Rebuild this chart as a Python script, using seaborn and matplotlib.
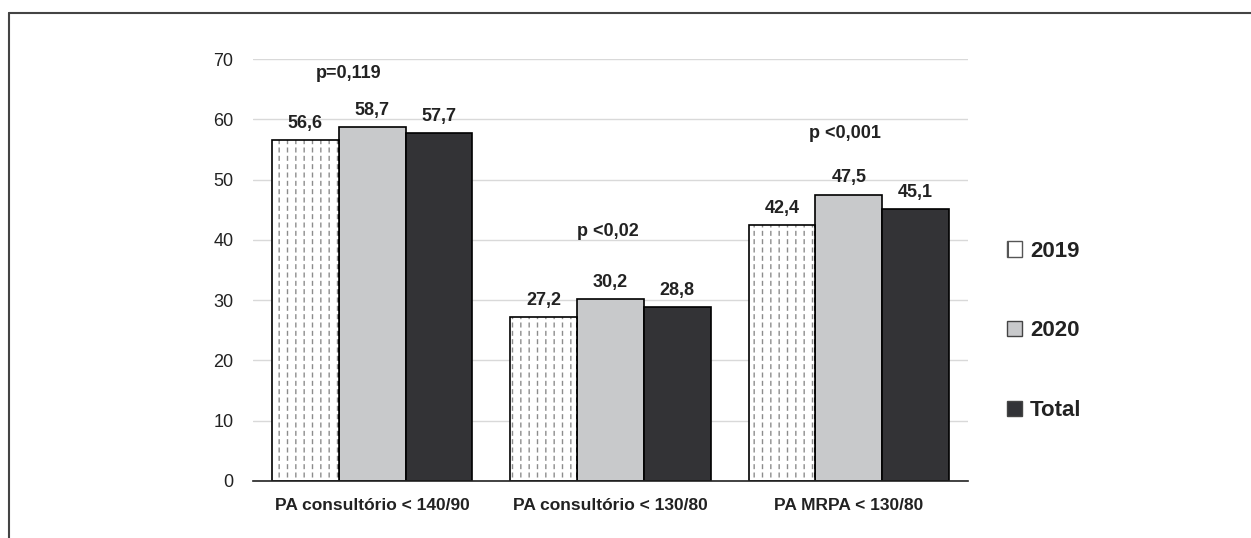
import numpy as np
import pandas as pd
import matplotlib as mpl
import matplotlib.pyplot as plt
from matplotlib.patches import Patch
from matplotlib.lines import Line2D
import seaborn as sns

sns.set_theme(style="whitegrid")
plt.rcParams['font.family'] = ['Liberation Sans', 'DejaVu Sans']
plt.rcParams['hatch.linewidth'] = 1.0

categories = ["PA consultório < 140/90", "PA consultório < 130/80", "PA MRPA < 130/80"]
series = ["2019", "2020", "Total"]
v2019 = [56.6, 27.2, 42.4]
v2020 = [58.7, 30.2, 47.5]
vtotal = [57.7, 28.8, 45.1]
pvalues = ["p=0,119", "p <0,02", "p <0,001"]
p_y = [67.7, 41.4, 57.7]
p_x = [-0.097, -0.01, -0.015]

colors = ["white", "#c8c9cb", "#323337"]

df = pd.DataFrame({
    "cat": categories * 3,
    "serie": [s for s in series for _ in categories],
    "val": v2019 + v2020 + vtotal,
})

fig = plt.figure(figsize=(12.51, 5.38), dpi=100)
ax = fig.add_axes([0.2022, 0.106, 0.5716, 0.784])

sns.barplot(data=df, x="cat", y="val", hue="serie", palette=colors,
            width=0.84, edgecolor="black", linewidth=1.2, ax=ax, legend=False)

# 2019: grey dashed vertical lines
for bar in ax.containers[0]:
    x0, y0 = bar.get_x(), bar.get_y()
    w, h = bar.get_width(), bar.get_height()
    bar.set_edgecolor("#8c8c8c")
    bar.set_hatch("||")
    bar.set_linewidth(0)
    with mpl.rc_context({"hatch.linewidth": 2.4}):
        ax.bar(x0, h, width=w, bottom=y0, align="edge", facecolor="none",
               edgecolor="white", linewidth=0, hatch="--", zorder=bar.get_zorder() + 0.1)
    ax.bar(x0, h, width=w, bottom=y0, align="edge", facecolor="none",
           edgecolor="black", linewidth=1.2, zorder=bar.get_zorder() + 0.2)

for cont in ax.containers[:3]:
    ax.bar_label(cont, labels=[f"{b.get_height():.1f}".replace(".", ",") for b in cont],
                 padding=6, fontsize=13, fontweight="bold", color="#222222")

for i, (t, y) in enumerate(zip(pvalues, p_y)):
    ax.text(i + p_x[i], y, t, ha="center", va="center", fontsize=13,
            fontweight="bold", color="#222222")

ax.set_ylim(0, 70)
ax.set_yticks(range(0, 71, 10))
ax.set_xlim(-0.5, 2.5)
ax.set_xlabel("")
ax.set_ylabel("")
ax.grid(axis="y", color="#d9d9d9", linewidth=1)
ax.grid(axis="x", visible=False)
for s in ["left", "right", "top"]:
    ax.spines[s].set_visible(False)
ax.spines["bottom"].set_color("#222222")
ax.spines["bottom"].set_linewidth(1.2)
ax.tick_params(axis="y", labelsize=13, colors="#222222", pad=14, length=0)
ax.tick_params(axis="x", length=0, pad=12)
for lbl in ax.get_xticklabels():
    lbl.set_fontweight("bold")
    lbl.set_fontsize(12.5)
    lbl.set_color("#222222")

handles = [Patch(facecolor=c, edgecolor="#444444", linewidth=1.0) for c in colors]
handles[0] = Patch(facecolor="white", edgecolor="#555555", linewidth=1.0, hatch="|")
leg = fig.legend(handles, series, loc="center left", bbox_to_anchor=(1007 / 1251, 0.385),
                 frameon=False, handlelength=0.68, handleheight=0.68, handletextpad=0.36,
                 labelspacing=2.64, borderpad=0, borderaxespad=0,
                 prop={"weight": "bold", "size": 16})
for t in leg.get_texts():
    t.set_color("#222222")

fig.add_artist(Line2D([9 / 1251, 1], [1 - 13 / 538, 1 - 13 / 538], color="#444444", linewidth=1.5))
fig.add_artist(Line2D([9 / 1251, 9 / 1251], [0, 1 - 13 / 538], color="#444444", linewidth=1.5))

fig.savefig("out.png", dpi=100)
